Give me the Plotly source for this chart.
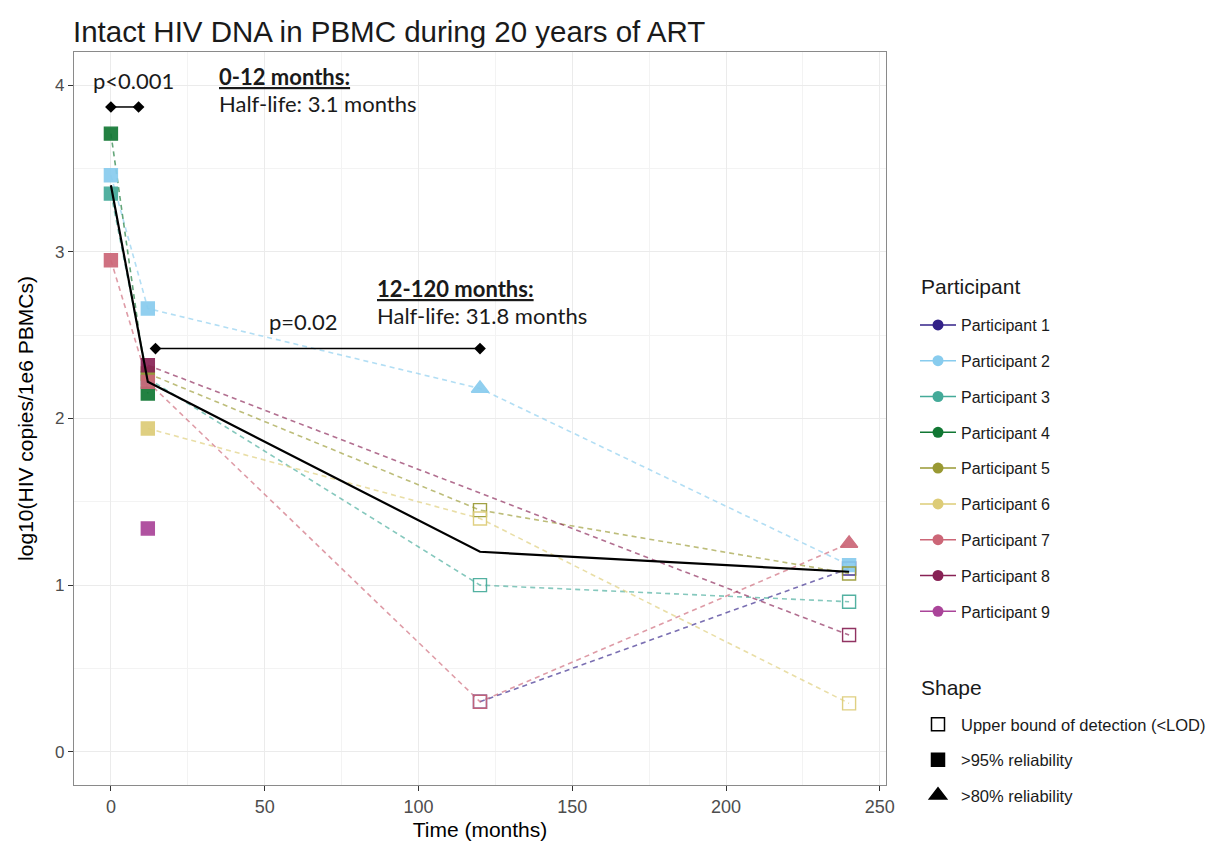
import plotly.graph_objects as go

# ---------------- data ----------------
times = [0, 12, 120, 240]
participants = ["Participant 1", "Participant 2", "Participant 3", "Participant 4",
                "Participant 5", "Participant 6", "Participant 7", "Participant 8",
                "Participant 9"]
colors = ["#332288", "#88CCEE", "#44AA99", "#117733", "#999933",
          "#DDCC77", "#CC6677", "#882255", "#AA4499"]

p1 = [None, None, 0.30, 1.10]
p2 = [3.46, 2.66, 2.18, 1.12]
p3 = [3.35, 2.24, 1.00, 0.90]
p4 = [3.71, 2.15, None, None]
p5 = [None, 2.27, 1.45, 1.07]
p6 = [None, 1.94, 1.40, 0.29]
p7 = [2.95, 2.22, 0.30, 1.25]
p8 = [None, 2.32, None, 0.70]
p9 = [None, 1.34, None, None]
values = [p1, p2, p3, p4, p5, p6, p7, p8, p9]

# shape category: "lod" = upper bound (<LOD), "95" = >95% reliability, "80" = >80% reliability
s1 = [None, None, "lod", "lod"]
s2 = ["95", "95", "80", "95"]
s3 = ["95", "95", "lod", "lod"]
s4 = ["95", "95", None, None]
s5 = [None, "95", "lod", "lod"]
s6 = [None, "95", "lod", "lod"]
s7 = ["95", "95", "lod", "80"]
s8 = [None, "95", None, "lod"]
s9 = [None, "95", None, None]
shapes = [s1, s2, s3, s4, s5, s6, s7, s8, s9]

mean_values = [3.40, 2.22, 1.20, 1.08]

shape_labels = ["Upper bound of detection (<LOD)", ">95% reliability", ">80% reliability"]
shape_keys = ["lod", "95", "80"]
symbol_map = {"lod": "square-open", "95": "square", "80": "triangle-up"}

# bracket annotations
bracket1_x = [0, 9]
bracket1_y = [3.87, 3.87]
bracket2_x = [14.5, 120]
bracket2_y = [2.42, 2.42]

W, H = 1221, 841
PL, PR, PT, PB = 74, 886, 52, 785  # panel edges in pixels


def rgba(h, a):
    h = h.lstrip("#")
    return "rgba(%d,%d,%d,%.2f)" % (int(h[0:2], 16), int(h[2:4], 16), int(h[4:6], 16), a)


fig = go.Figure()

# dashed participant lines
for name, col, vals in zip(participants, colors, values):
    xs = [t for t, v in zip(times, vals) if v is not None]
    ys = [v for v in vals if v is not None]
    fig.add_trace(go.Scatter(x=xs, y=ys, mode="lines", showlegend=False,
                             line=dict(color=rgba(col, 0.65), width=1.6, dash="5px,4px"),
                             hoverinfo="skip"))

# participant markers
for name, col, vals, shp in zip(participants, colors, values, shapes):
    xs = [t for t, v in zip(times, vals) if v is not None]
    ys = [v for v in vals if v is not None]
    ss = [s for s, v in zip(shp, vals) if v is not None]
    syms = [symbol_map[s] for s in ss]
    sizes = [15 if s == "80" else 13 for s in ss]
    fig.add_trace(go.Scatter(x=xs, y=ys, mode="markers", showlegend=False, name=name,
                             marker=dict(symbol=syms, size=sizes, opacity=0.92, color=col,
                                         line=dict(width=1.4, color=col))))

# mean line
fig.add_trace(go.Scatter(x=times, y=mean_values, mode="lines", showlegend=False,
                         line=dict(color="black", width=2.2)))

# brackets
for bx, by in [(bracket1_x, bracket1_y), (bracket2_x, bracket2_y)]:
    fig.add_trace(go.Scatter(x=bx, y=by, mode="lines+markers", showlegend=False,
                             line=dict(color="black", width=1.5),
                             marker=dict(symbol="diamond", size=9, color="black")))

# legend: participants
for i, (name, col) in enumerate(zip(participants, colors)):
    fig.add_trace(go.Scatter(x=[None], y=[None], mode="lines+markers", name=name,
                             legend="legend", legendgroup="p%d" % i,
                             line=dict(color=col, width=1.5),
                             marker=dict(symbol="circle", size=11, color=col)))

# legend: shapes
for i, (lab, key) in enumerate(zip(shape_labels, shape_keys)):
    fig.add_trace(go.Scatter(x=[None], y=[None], mode="markers", name=lab,
                             legend="legend2", legendgroup="s%d" % i,
                             marker=dict(symbol=symbol_map[key], size=13 if key != "80" else 15,
                                         color="black", line=dict(width=1.5, color="black"))))

ann_font = dict(family="Lato, Open Sans, sans-serif", size=22, color="#1a1a1a")
annotations = [
    dict(x=7.5, y=4.03, text="p<0.001", xanchor="center"),
    dict(x=34.5, y=4.05, text="<b><u>0-12 months:</u></b>", xanchor="left"),
    dict(x=34.5, y=3.89, text="Half-life: 3.1 months", xanchor="left"),
    dict(x=62.5, y=2.58, text="p=0.02", xanchor="center"),
    dict(x=86.0, y=2.78, text="<b><u>12-120 months:</u></b>", xanchor="left"),
    dict(x=86.0, y=2.62, text="Half-life: 31.8 months", xanchor="left"),
]
for a in annotations:
    a.update(xref="x", yref="y", showarrow=False, yanchor="middle", font=ann_font)

# legend titles (placed as text next to the legends)
pw = PR - PL
ph = PB - PT
for txt, ypx in [("Participant", 286), ("Shape", 687)]:
    annotations.append(dict(text=txt, xref="paper", yref="paper",
                            x=(919 - PL) / pw, y=(PB - ypx) / ph,
                            xanchor="left", yanchor="middle", showarrow=False,
                            font=dict(family="Liberation Sans, Arial, sans-serif",
                                      size=21, color="#1a1a1a")))

grid_major = "#ebebeb"
grid_minor = "#f3f3f3"

fig.update_layout(
    width=W, height=H,
    margin=dict(l=PL, r=W - PR, t=PT, b=H - PB, autoexpand=False),
    plot_bgcolor="white", paper_bgcolor="white",
    font=dict(family="Liberation Sans, Arial, sans-serif", color="#1a1a1a"),
    title=dict(text="Intact HIV DNA in PBMC during 20 years of ART",
               x=73 / W, xref="container", xanchor="left",
               y=1 - 32 / H, yref="container", yanchor="middle",
               font=dict(size=29.5, color="#1a1a1a")),
    annotations=annotations,
    xaxis=dict(range=[-12, 252], tickvals=[0, 50, 100, 150, 200, 250],
               showgrid=True, gridcolor=grid_major, gridwidth=1.2,
               minor=dict(tickvals=[25, 75, 125, 175, 225], showgrid=True,
                          gridcolor=grid_minor, gridwidth=0.8),
               zeroline=False, showline=True, linecolor="#8a8a8a", linewidth=1.3, mirror=True,
               ticks="outside", ticklen=5, tickcolor="#333333", tickwidth=1.2,
               tickfont=dict(size=18, color="#4d4d4d"), automargin=False,
               title=dict(text="Time (months)", font=dict(size=21, color="#000000"))),
    yaxis=dict(range=[-0.2, 4.2], tickvals=[0, 1, 2, 3, 4],
               showgrid=True, gridcolor=grid_major, gridwidth=1.2,
               minor=dict(tickvals=[0.5, 1.5, 2.5, 3.5], showgrid=True,
                          gridcolor=grid_minor, gridwidth=0.8),
               zeroline=False, showline=True, linecolor="#8a8a8a", linewidth=1.3, mirror=True,
               ticks="outside", ticklen=5, tickcolor="#333333", tickwidth=1.2,
               tickfont=dict(size=17, color="#4d4d4d"), automargin=False,
               title=dict(text="log10(HIV copies/1e6 PBMCs)", font=dict(size=21, color="#000000"))),
    legend=dict(x=915 / W, xref="container", xanchor="left",
                y=1 - 308 / H, yref="container", yanchor="top",
                traceorder="grouped", tracegroupgap=12, itemwidth=36,
                font=dict(size=16, color="#1a1a1a"), bgcolor="rgba(0,0,0,0)"),
    legend2=dict(x=915 / W, xref="container", xanchor="left",
                 y=1 - 707 / H, yref="container", yanchor="top",
                 traceorder="grouped", tracegroupgap=11, itemwidth=36,
                 font=dict(size=16.5, color="#1a1a1a"), bgcolor="rgba(0,0,0,0)"),
)

fig.write_html("out.html")
